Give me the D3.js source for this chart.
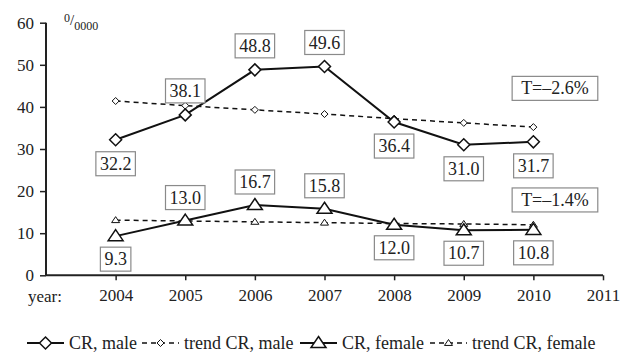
<!DOCTYPE html>
<html>
<head>
<meta charset="utf-8">
<script src="https://cdn.jsdelivr.net/npm/d3@7"></script>
<style>
  body { margin: 0; background: #fff; }
</style>
</head>
<body>
<svg id="chart" width="620" height="352" font-family="Liberation Serif"></svg>
<script>
var years = [2004, 2005, 2006, 2007, 2008, 2009, 2010];
var maleCR = [32.2, 38.1, 48.8, 49.6, 36.4, 31.0, 31.7];
var maleTrend = [41.4, 40.3, 39.3, 38.3, 37.2, 36.2, 35.2];
var femaleCR = [9.3, 13.0, 16.7, 15.8, 12.0, 10.7, 10.8];
var femaleTrend = [13.1, 12.9, 12.7, 12.5, 12.3, 12.2, 12.0];
var xTicks = [2004, 2005, 2006, 2007, 2008, 2009, 2010, 2011];
var yTicks = [0, 10, 20, 30, 40, 50, 60];
var trendNotes = ["T=\u20132.6%", "T=\u20131.4%"];

// which value labels sit above the point
var maleAbove = [false, true, true, true, false, false, false];
var femaleAbove = [false, true, true, true, false, false, false];

var FONT = "Liberation Serif";
var INK = "#222";

var svg = d3.select("#chart");

var x = d3.scaleLinear().domain([2003, 2011]).range([46, 603]);
var y = d3.scaleLinear().domain([0, 60]).range([275.3, 22.7]);

// axes
var yAxis = svg.append("g")
    .attr("transform", "translate(" + x(2003) + ",0)")
    .call(d3.axisLeft(y).tickValues(yTicks).tickSize(6).tickPadding(6));
var xAxis = svg.append("g")
    .attr("transform", "translate(0," + y(0) + ")")
    .call(d3.axisBottom(x).tickValues(xTicks).tickSize(5).tickPadding(9).tickFormat(d3.format("d")));

[yAxis, xAxis].forEach(function(a) {
    a.attr("font-family", FONT).attr("font-size", 17);
    a.select(".domain").attr("stroke", INK).attr("stroke-width", 2);
    a.selectAll(".tick line").attr("stroke", INK).attr("stroke-width", 1.5);
    a.selectAll("text").attr("fill", INK);
});
yAxis.select(".domain").attr("d", "M0," + y(60) + "V" + y(0));
xAxis.select(".domain").attr("d", "M" + x(2003) + ",0H" + x(2011));

svg.append("text").attr("x", 28).attr("y", y(0) + 27).attr("font-size", 17)
    .attr("font-family", FONT).attr("fill", INK).text("year:");

// unit  0/0000
var unit = svg.append("text").attr("x", 64).attr("y", 22).attr("font-family", FONT).attr("fill", INK);
unit.append("tspan").attr("font-size", 12).text("0");
unit.append("tspan").attr("font-size", 15).attr("dy", 3).text("/");
unit.append("tspan").attr("font-size", 12).attr("dy", 5).text("0000");

var diamond = function(r) { return "M0," + (-r) + "L" + r + ",0L0," + r + "L" + (-r) + ",0Z"; };
var triangle = function(r) { return "M0," + (-r) + "L" + (r * 1.15) + "," + (r * 0.7) + "L" + (-r * 1.15) + "," + (r * 0.7) + "Z"; };

var line = d3.line().x(function(d, i) { return x(years[i]); }).y(function(d) { return y(d); });

function drawSeries(values, dashed, shape) {
    svg.append("path")
        .datum(values)
        .attr("d", line)
        .attr("fill", "none")
        .attr("stroke", "#111")
        .attr("stroke-width", dashed ? 1.5 : 2)
        .attr("stroke-dasharray", dashed ? "5,4" : null);
    svg.append("g").selectAll("path")
        .data(values)
        .enter().append("path")
        .attr("transform", function(d, i) { return "translate(" + x(years[i]) + "," + y(d) + ")"; })
        .attr("d", shape)
        .attr("fill", "#fff")
        .attr("stroke", "#111")
        .attr("stroke-width", dashed ? 1 : 1.5);
}

drawSeries(maleTrend, true, diamond(3.5));
drawSeries(femaleTrend, true, triangle(3.5));
drawSeries(maleCR, false, diamond(6));
drawSeries(femaleCR, false, triangle(6.5));

function boxLabel(cx, cy, txt, padX) {
    var g = svg.append("g");
    var rect = g.append("rect");
    var t = g.append("text")
        .attr("x", cx).attr("y", cy)
        .attr("text-anchor", "middle")
        .attr("dy", "0.34em")
        .attr("font-size", 18)
        .attr("font-family", FONT)
        .attr("fill", INK)
        .text(txt);
    var b = t.node().getBBox();
    rect.attr("x", b.x - padX).attr("y", cy - 12)
        .attr("width", b.width + padX * 2).attr("height", 24)
        .attr("fill", "#fff").attr("stroke", "#8a8a8a").attr("stroke-width", 1.2);
}

maleCR.forEach(function(v, i) {
    boxLabel(x(years[i]), y(v) + (maleAbove[i] ? -24 : 24), v.toFixed(1), 4);
});
femaleCR.forEach(function(v, i) {
    boxLabel(x(years[i]), y(v) + (femaleAbove[i] ? -23 : 23), v.toFixed(1), 4);
});

boxLabel(x(2010.31), y(44.4), trendNotes[0], 9);
boxLabel(x(2010.31), y(17.9), trendNotes[1], 9);

// legend
var legend = [
    { name: "CR, male", x: 27, shape: diamond(6), dashed: false },
    { name: "trend CR, male", x: 142, shape: diamond(3.5), dashed: true },
    { name: "CR, female", x: 300, shape: triangle(6.5), dashed: false },
    { name: "trend CR, female", x: 430, shape: triangle(3.5), dashed: true }
];
var ly = 343;
legend.forEach(function(d) {
    var g = svg.append("g").attr("transform", "translate(" + d.x + "," + ly + ")");
    g.append("line").attr("x1", 0).attr("x2", 37).attr("y1", 0).attr("y2", 0)
        .attr("stroke", "#111").attr("stroke-width", d.dashed ? 1.5 : 2)
        .attr("stroke-dasharray", d.dashed ? "5,4" : null);
    g.append("path").attr("transform", "translate(18.5,0)").attr("d", d.shape)
        .attr("fill", "#fff").attr("stroke", "#111").attr("stroke-width", d.dashed ? 1 : 1.5);
    g.append("text").attr("x", 42).attr("dy", "0.34em").attr("font-size", 18)
        .attr("font-family", FONT).attr("fill", INK).text(d.name);
});
</script>
</body>
</html>
